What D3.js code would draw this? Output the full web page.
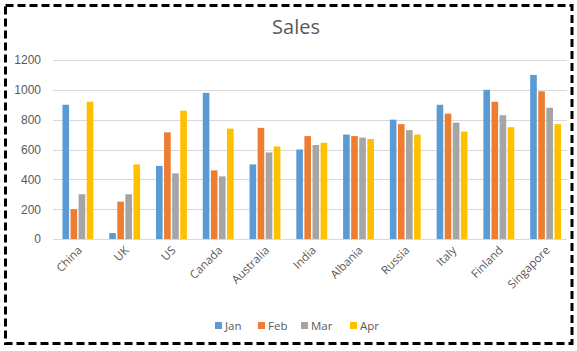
<!DOCTYPE html>
<html>
<head>
<meta charset="utf-8">
<script src="https://cdn.jsdelivr.net/npm/d3@7"></script>
<style>
  body { margin: 0; background: #fff; }
  svg { display: block; font-family: "Open Sans", "Noto Sans", sans-serif; }
</style>
</head>
<body>
<div id="chart"></div>
<script>
const countries = ["China", "UK", "US", "Canada", "Australia", "India", "Albania", "Russia", "Italy", "Finland", "Singapore"];
const months = ["Jan", "Feb", "Mar", "Apr"];
const jan = [900, 40, 490, 980, 500, 600, 700, 800, 900, 1000, 1100];
const feb = [200, 250, 715, 460, 745, 690, 690, 770, 840, 920, 990];
const mar = [300, 300, 440, 420, 580, 630, 680, 730, 780, 830, 880];
const apr = [920, 500, 860, 740, 620, 645, 670, 700, 720, 750, 770];
const yTicks = [0, 200, 400, 600, 800, 1000, 1200];
const colors = ["#5B9BD5", "#ED7D31", "#A5A5A5", "#FFC000"];

const series = [jan, feb, mar, apr];
const rows = countries.map((c, i) => ({
    country: c,
    values: months.map((m, j) => ({ month: m, value: series[j][i] }))
}));

const W = 577, H = 351;
const svg = d3.select("#chart").append("svg")
    .attr("width", W)
    .attr("height", H);

svg.append("rect")
    .attr("width", W).attr("height", H)
    .attr("fill", "#fff");

// dashed frame
svg.append("rect")
    .attr("x", 5.5).attr("y", 5.5)
    .attr("width", 566.5).attr("height", 338)
    .attr("fill", "none")
    .attr("stroke", "#000")
    .attr("stroke-width", 3)
    .attr("stroke-dasharray", "8,4");

const x0 = d3.scaleBand().domain(countries).range([54.5, 569]).paddingInner(0.34).paddingOuter(0.17);
const x1 = d3.scaleBand().domain(months).range([0, x0.bandwidth()]).paddingInner(0.18);
const y = d3.scaleLinear().domain([0, 1200]).range([239, 60]);
const color = d3.scaleOrdinal().domain(months).range(colors);

// grid
svg.append("g")
    .attr("transform", "translate(53,0)")
    .call(d3.axisLeft(y).tickValues(yTicks).tickSize(-514).tickFormat(""))
    .call(g => g.select(".domain").remove())
    .selectAll("line")
    .attr("stroke", "#d9d9d9")
    .style("shape-rendering", "crispEdges");

// y labels
svg.append("g")
    .attr("transform", "translate(41,0)")
    .call(d3.axisLeft(y).tickValues(yTicks).tickSize(0).tickPadding(0).tickFormat(d3.format("d")))
    .call(g => g.select(".domain").remove())
    .selectAll("text")
    .attr("fill", "#595959")
    .style("font-size", "12px");

// bars
svg.append("g").selectAll("g")
    .data(rows)
    .join("g")
    .attr("transform", d => `translate(${x0(d.country)},0)`)
    .selectAll("rect")
    .data(d => d.values)
    .join("rect")
    .attr("x", d => x1(d.month))
    .attr("y", d => y(d.value))
    .attr("width", x1.bandwidth())
    .attr("height", d => y(0) - y(d.value))
    .attr("fill", d => color(d.month));

// x axis baseline
svg.append("line")
    .attr("x1", 53).attr("x2", 567)
    .attr("y1", y(0) + 0.5).attr("y2", y(0) + 0.5)
    .attr("stroke", "#d9d9d9");

// x labels
svg.append("g").selectAll("text")
    .data(countries)
    .join("text")
    .attr("transform", d => `translate(${x0(d) + x0.bandwidth() / 2 + 5},${y(0) + 12}) rotate(-45)`)
    .attr("text-anchor", "end")
    .attr("fill", "#595959")
    .style("font-size", "11.5px")
    .text(d => d);

// title
svg.append("text")
    .attr("x", 296).attr("y", 34)
    .attr("text-anchor", "middle")
    .attr("fill", "#595959")
    .style("font-size", "20px")
    .text("Sales");

// legend
const legendX = [215, 258, 301, 350];
const legend = svg.append("g").selectAll("g")
    .data(months)
    .join("g")
    .attr("transform", (d, i) => `translate(${legendX[i]},326)`);
legend.append("rect")
    .attr("x", 0).attr("y", -4)
    .attr("width", 7).attr("height", 7)
    .attr("fill", d => color(d));
legend.append("text")
    .attr("x", 10).attr("y", 4)
    .attr("fill", "#595959")
    .style("font-size", "11.5px")
    .text(d => d);
</script>
</body>
</html>
